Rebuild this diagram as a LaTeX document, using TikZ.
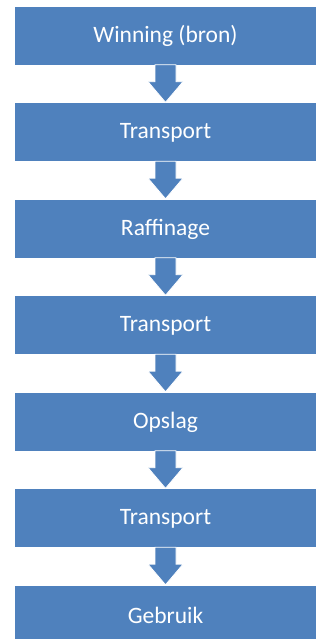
\documentclass[tikz,border=0pt]{standalone}
\usepackage{fontspec}
\setmainfont{Carlito}
\usetikzlibrary{calc}
\definecolor{boxblue}{RGB}{79,129,189}
\begin{document}
\begin{tikzpicture}[x=1bp,y=1bp,
  stepbox/.style={fill=boxblue, draw=none, minimum width=301bp, minimum height=58bp, inner sep=0pt, text=white, font=\fontsize{23.5bp}{28bp}\selectfont},
  downarrow/.style={fill=boxblue, draw=white, line width=0.8bp}]
\useasboundingbox (0,0) rectangle (321,639);
\clip (0,0) rectangle (321,639);
\foreach \i/\t in {0/{Winning (bron)},1/Transport,2/Raffinage,3/Transport,4/Opslag,5/Transport,6/Gebruik}{
  \node[stepbox] (b\i) at (165.5,{639-(7+\i*96.5+29)}) {\t};
}
\foreach \i [evaluate=\i as \j using int(\i+1)] in {0,...,5}{
  \draw[downarrow] ($(b\i.south)+(-10.5,0.5)$) -- ($(b\i.south)+(-10.5,-16.5)$) -- ($(b\i.south)+(-17.5,-16.5)$)
    -- ($(b\j.north)+(0,1)$) -- ($(b\i.south)+(17.5,-16.5)$) -- ($(b\i.south)+(10.5,-16.5)$) -- ($(b\i.south)+(10.5,0.5)$) -- cycle;
}
\end{tikzpicture}
\end{document}
